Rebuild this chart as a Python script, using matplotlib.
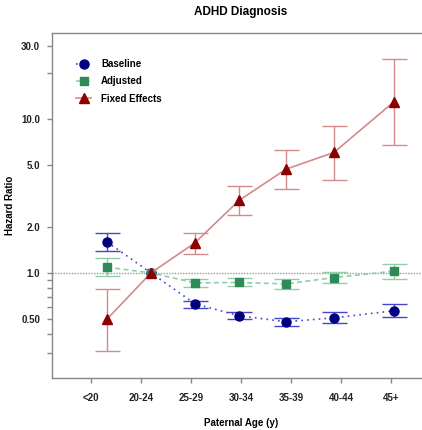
import numpy as np
import matplotlib
matplotlib.use("Agg")
import matplotlib.pyplot as plt

plt.rcParams['font.family'] = ['Liberation Sans', 'DejaVu Sans']
plt.rcParams['font.weight'] = 'bold'

# paternal age groups and where each estimate sits on the x axis
age_groups = ['<20', '20-24', '25-29', '30-34', '35-39', '40-44', '45+']
x_pos = [0.32, 1.2, 2.08, 2.96, 3.9, 4.86, 6.06]

# hazard ratios with 95% CI (20-24 is the reference group)
baseline = [1.59, 1.0, 0.629, 0.526, 0.481, 0.51, 0.567]
base_lo = [1.39, np.nan, 0.593, 0.498, 0.453, 0.474, 0.518]
base_hi = [1.82, np.nan, 0.658, 0.556, 0.508, 0.556, 0.626]

adjusted = [1.09, 1.0, 0.861, 0.866, 0.848, 0.933, 1.025]
adj_lo = [0.952, np.nan, 0.81, 0.816, 0.79, 0.853, 0.914]
adj_hi = [1.25, np.nan, 0.91, 0.92, 0.906, 1.006, 1.14]

fixed = [0.50, 1.0, 1.57, 2.96, 4.73, 6.08, 13.0]
fix_lo = [0.31, np.nan, 1.32, 2.37, 3.49, 4.04, 6.78]
fix_hi = [0.78, np.nan, 1.82, 3.69, 6.33, 8.97, 24.8]

fig = plt.figure(figsize=(4.22, 4.30), dpi=100)
ax = fig.add_axes([52 / 422, 1 - 378 / 430, 378 / 422, 345 / 430])


def draw(y, lo, hi, marker, mcolor, lcolor, ls, ms, label):
    y = np.array(y)
    err = np.array([y - np.array(lo), np.array(hi) - y])
    ax.errorbar(x_pos, y, yerr=err, fmt='none', ecolor=lcolor, elinewidth=1,
                capsize=9, capthick=1)
    ax.plot(x_pos, y, ls=ls, color=lcolor, lw=1.2, marker=marker, ms=ms,
            mfc=mcolor, mec=mcolor, label=label)


ax.axhline(1.0, color='#999999', ls=(0, (1, 1)), lw=1)
draw(baseline, base_lo, base_hi, 'o', '#000080', '#4646c8', (0, (1, 2.5)), 6.5, 'Baseline')
draw(adjusted, adj_lo, adj_hi, 's', '#2e8b57', '#8fcfa6', (0, (3, 2)), 6, 'Adjusted')
draw(fixed, fix_lo, fix_hi, '^', '#8b0000', '#d48a8a', '-', 7, 'Fixed Effects')

ax.set_yscale('log')
ax.set_ylim(0.207, 36.4)
ax.set_xlim(-0.78, 6.78)

ax.set_yticks([0.5, 1.0, 2.0, 5.0, 10.0, 30.0])
ax.set_yticklabels(['0.50', '1.0', '2.0', '5.0', '10.0', '30.0'])
ax.set_yticks([0.3, 0.4, 0.6, 0.7, 0.8, 0.9, 20], minor=True)
ax.yaxis.set_minor_formatter(matplotlib.ticker.NullFormatter())
ax.set_xticks(range(len(age_groups)))
ax.set_xticklabels(age_groups)

for s in ['left', 'bottom', 'top']:
    ax.spines[s].set_color('#888888')
    ax.spines[s].set_linewidth(1)
ax.spines['right'].set_visible(False)
ax.tick_params(which='both', colors='#888888', length=3.6, width=1, labelcolor='#222222',
               labelsize=7)
ax.tick_params(axis='x', pad=7)
ax.tick_params(axis='y', pad=5)

ax.set_xlabel('Paternal Age (y)', fontsize=7, fontweight='bold')
ax.set_ylabel('Hazard Ratio', fontsize=7, fontweight='bold')
ax.xaxis.set_label_coords(0.5, -0.116)
ax.yaxis.set_label_coords(-0.098, 0.5)
fig.text(241 / 422, 1 - 12 / 430, 'ADHD Diagnosis', ha='center', va='center',
         fontsize=8.5, fontweight='bold')

ax.legend(loc='upper left', bbox_to_anchor=(0.04, 0.95), frameon=False, fontsize=7,
          handlelength=1.6, handletextpad=1.0, labelspacing=0.75)

fig.savefig('out.png', dpi=100)
